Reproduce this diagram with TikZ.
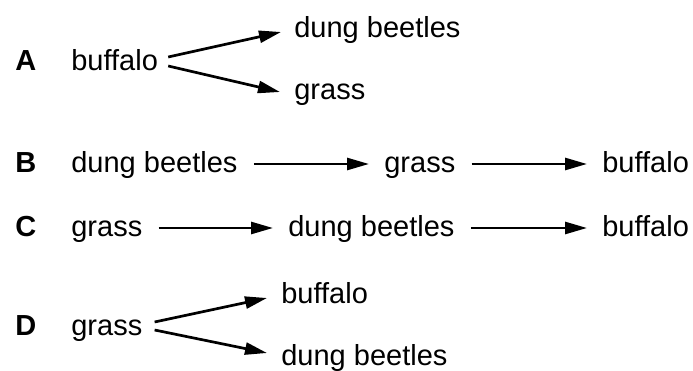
\documentclass[tikz,border=0pt]{standalone}
\usepackage{fontspec}
\setmainfont{Liberation Sans}
\usetikzlibrary{arrows.meta, calc}

\begin{document}
\begin{tikzpicture}[x=1pt, y=-1pt, line width=2.7pt,
    >={Triangle[length=22pt, width=12pt]},
    every node/.style={inner sep=0pt, anchor=base west,
      text height=18pt, text depth=0pt, font=\fontsize{29}{35}\selectfont},
    optlbl/.style={font=\fontsize{29}{35}\selectfont\bfseries},
    step arrow/.style={->, shorten <=15pt, shorten >=14pt}]
    \useasboundingbox (0,0) rectangle (693,371);

    % A
    \node[optlbl] (labA) at (14,71) {A};
    \node (buffaloA) at (70,71) {buffalo};
    \node (dungA) at (293,38) {dung beetles};
    \node (grassA) at (293,100) {grass};
    \draw[->] ($(buffaloA.base east)+(9,-14)$) -- ($(dungA.base west)+(-12,-6)$);
    \draw[->] ($(buffaloA.base east)+(9,-5)$) -- ($(grassA.base west)+(-13,-8)$);

    % B
    \node[optlbl] (labB) at (14,173) {B};
    \node (dungB) at (70,173) {dung beetles};
    \node (grassB) at (383,173) {grass};
    \node (buffaloB) at (601,173) {buffalo};
    \draw[step arrow] (dungB) -- (grassB);
    \draw[step arrow] (grassB) -- (buffaloB);

    % C
    \node[optlbl] (labC) at (14,237) {C};
    \node (grassC) at (70,237) {grass};
    \node (dungC) at (287,237) {dung beetles};
    \node (buffaloC) at (601,237) {buffalo};
    \draw[step arrow] (grassC) -- (dungC);
    \draw[step arrow] (dungC) -- (buffaloC);

    % D
    \node[optlbl] (labD) at (14,335) {D};
    \node (grassD) at (70,335) {grass};
    \node (buffaloD) at (280,303) {buffalo};
    \node (dungD) at (280,365) {dung beetles};
    \draw[->] ($(grassD.base east)+(11,-13)$) -- ($(buffaloD.base west)+(-13,-5)$);
    \draw[->] ($(grassD.base east)+(11,-5)$) -- ($(dungD.base west)+(-13,-12)$);
\end{tikzpicture}
\end{document}
